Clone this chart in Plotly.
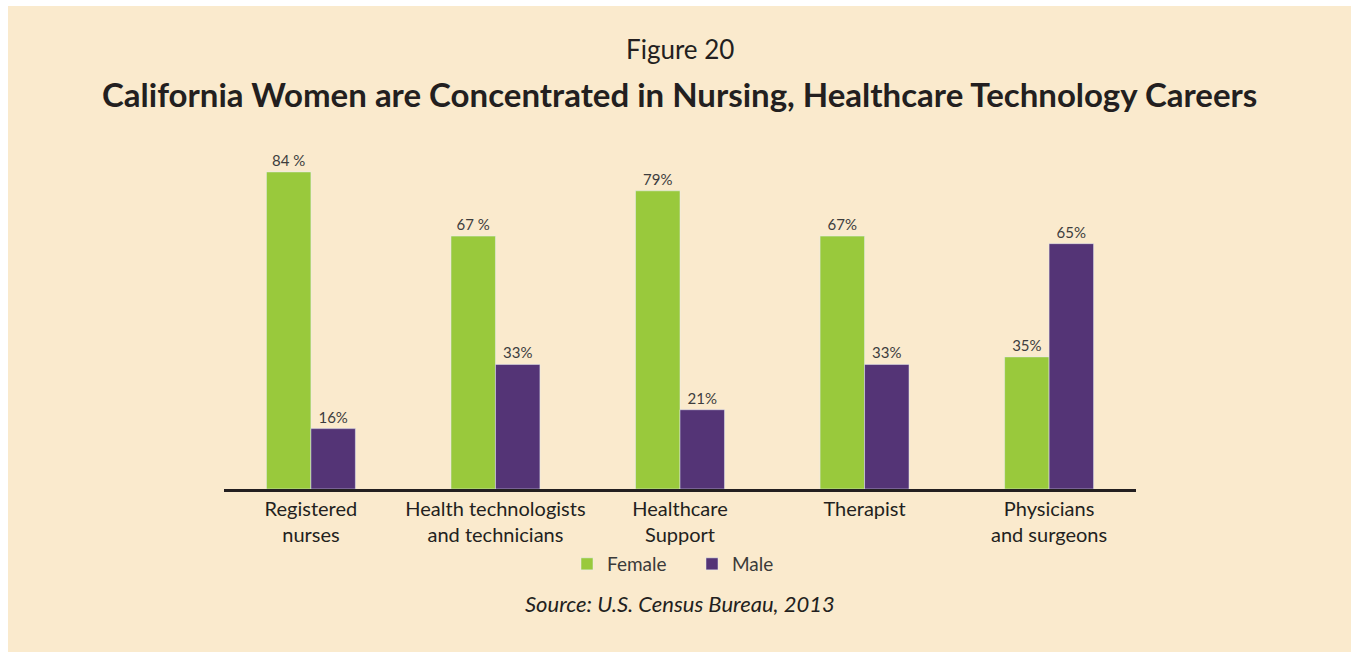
import plotly.graph_objects as go

categories = ["Registered<br>nurses", "Health technologists<br>and technicians",
              "Healthcare<br>Support", "Therapist", "Physicians<br>and surgeons"]
female = [84, 67, 79, 67, 35]
male = [16, 33, 21, 33, 65]
female_labels = ["84 %", "67 %", "79%", "67%", "35%"]
male_labels = ["16%", "33%", "21%", "33%", "65%"]

BG = "#FAEACD"
GREEN = "#99C93C"
PURPLE = "#543476"
TXT = "#231F20"
FONT = "Lato, 'Open Sans', sans-serif"

fig = go.Figure()
fig.add_trace(go.Bar(x=categories, y=female, name="Female", marker_color=GREEN,
                     text=female_labels, textposition="outside",
                     textfont=dict(size=15, color="#3d3d3d", family=FONT),
                     cliponaxis=False))
fig.add_trace(go.Bar(x=categories, y=male, name="Male", marker_color=PURPLE,
                     text=male_labels, textposition="outside",
                     textfont=dict(size=15, color="#3d3d3d", family=FONT),
                     cliponaxis=False))

W, H = 1351, 652
fig.update_layout(
    width=W, height=H,
    margin=dict(l=0, r=0, t=0, b=0),
    paper_bgcolor=BG,
    plot_bgcolor="rgba(0,0,0,0)",
    barmode="group", bargap=0.518, bargroupgap=0,
    font=dict(family=FONT, color=TXT),
    showlegend=True,
    legend=dict(orientation="h", x=692 / W, xanchor="center", y=(H - 564) / H, yanchor="middle",
                font=dict(size=19, color="#3a3a3a"), bgcolor="rgba(0,0,0,0)",
                itemwidth=30, tracegroupgap=0, entrywidth=80, entrywidthmode="pixels"),
    xaxis=dict(domain=[224 / W, 1136 / W], range=[-0.471, 4.471],
               showline=True, linecolor=TXT, linewidth=2.5, ticks="",
               tickfont=dict(size=20, color=TXT, family=FONT), showgrid=False,
               fixedrange=True),
    yaxis=dict(domain=[(H - 489) / H, (H - 149.3) / H], range=[0, 90],
               visible=False, showgrid=False, fixedrange=True),
    shapes=[
        dict(type="rect", xref="paper", yref="paper", x0=0, x1=8 / W, y0=0, y1=1,
             fillcolor="white", line=dict(width=0), layer="below"),
        dict(type="rect", xref="paper", yref="paper", x0=0, x1=1, y0=(H - 6) / H, y1=1,
             fillcolor="white", line=dict(width=0), layer="below"),
    ],
    annotations=[
        dict(text="Figure 20", x=680 / W, y=(H - 49) / H, xref="paper", yref="paper",
             yanchor="middle", showarrow=False, font=dict(size=26, color=TXT, family=FONT)),
        dict(text="<b>California Women are Concentrated in Nursing, Healthcare Technology Careers</b>",
             x=679 / W, y=(H - 94) / H, xref="paper", yref="paper", yanchor="middle",
             showarrow=False, font=dict(size=33, color=TXT, family=FONT)),
        dict(text="<i>Source: U.S. Census Bureau, 2013</i>", x=680 / W, y=(H - 603) / H,
             xref="paper", yref="paper", yanchor="middle", showarrow=False,
             font=dict(size=22, color=TXT, family=FONT)),
    ],
)

fig.write_html("out.html", config={"displayModeBar": False},
               post_script="document.body.style.margin='0px';document.body.style.overflow='hidden';"
                           "document.documentElement.style.overflow='hidden';")
